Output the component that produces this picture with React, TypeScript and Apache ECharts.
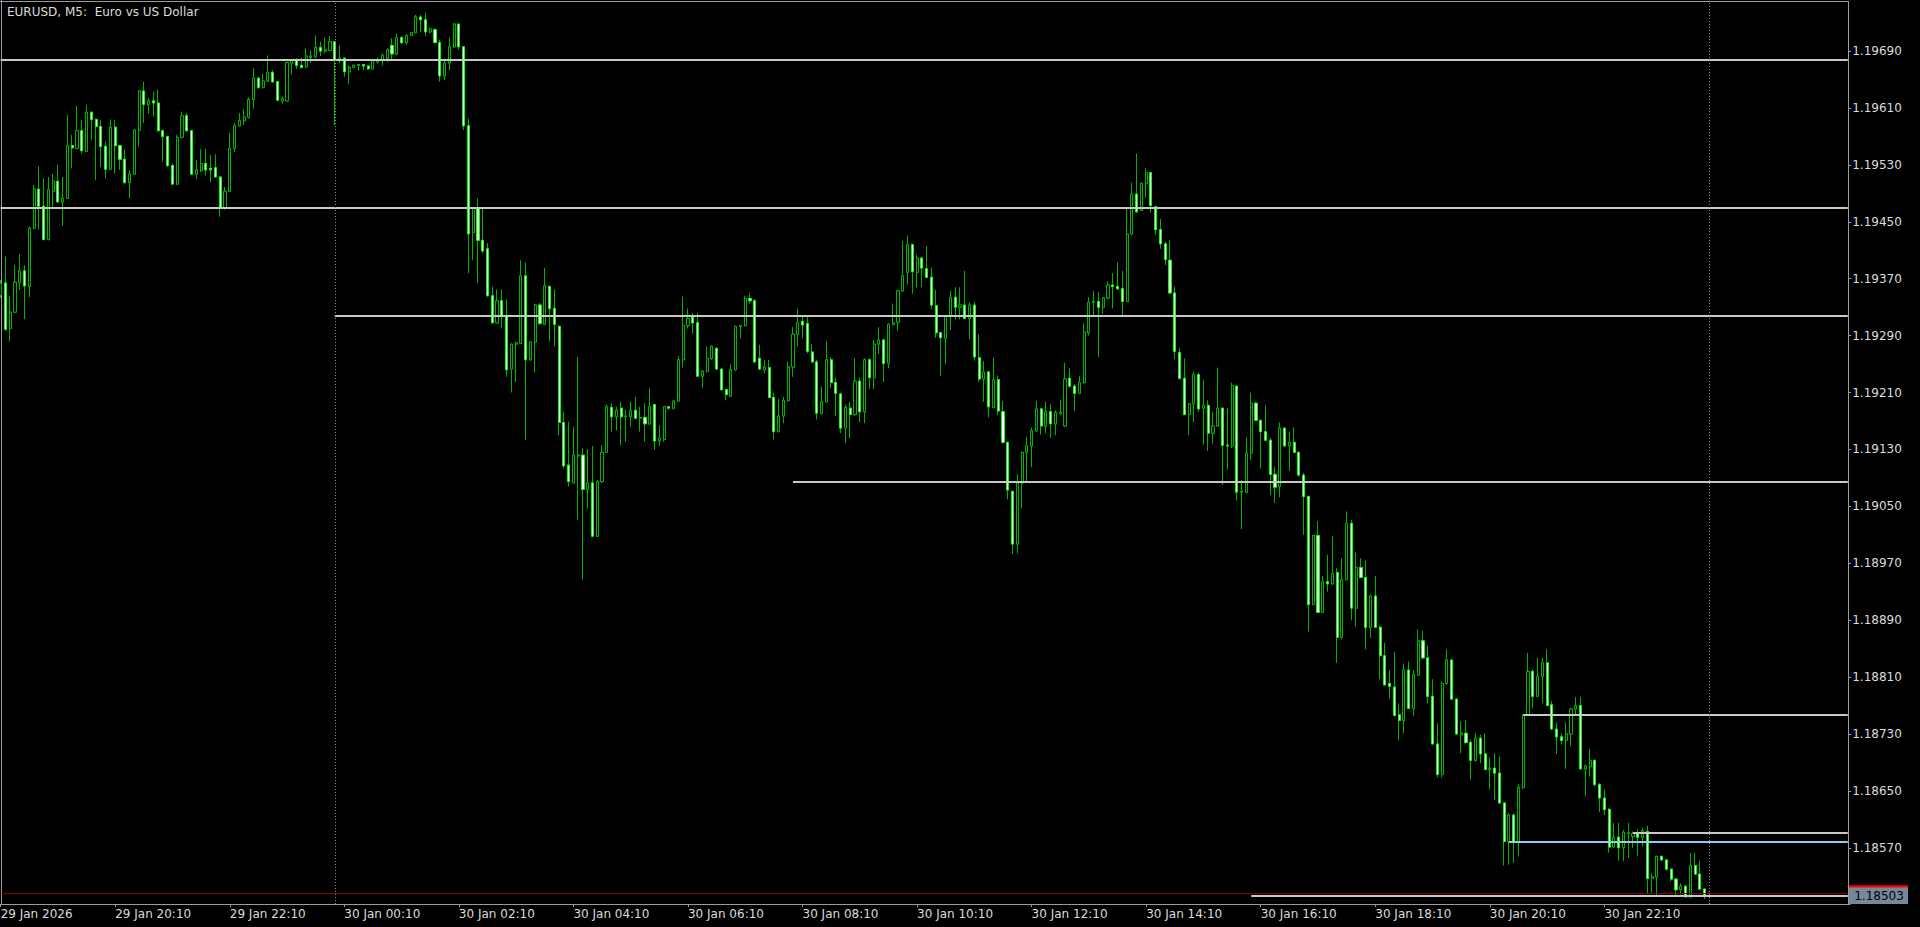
import React, { useEffect, useRef } from "react";
import * as echarts from "echarts";

// OHLC of each M5 bar, from 29 Jan 18:10 to 30 Jan 23:55
const opens = [
1.19347,1.19364,1.19300,1.19323,1.19365,1.19381,1.19359,1.19441,1.19496,1.19472,
1.19425,1.19493,1.19507,1.19478,1.19483,1.19557,1.19553,1.19578,1.19549,1.19604,
1.19594,1.19584,1.19556,1.19524,1.19583,1.19557,1.19538,1.19505,1.19517,1.19579,
1.19634,1.19615,1.19620,1.19617,1.19578,1.19570,1.19529,1.19503,1.19569,1.19599,
1.19578,1.19517,1.19522,1.19532,1.19525,1.19526,1.19513,1.19470,1.19493,1.19553,
1.19585,1.19592,1.19597,1.19622,1.19652,1.19639,1.19648,1.19660,1.19647,1.19620,
1.19620,1.19673,1.19677,1.19670,1.19668,1.19681,1.19682,1.19695,1.19690,1.19691,
1.19703,1.19677,1.19680,1.19661,1.19667,1.19670,1.19671,1.19669,1.19665,1.19675,
1.19678,1.19680,1.19698,1.19686,1.19709,1.19702,1.19712,1.19716,1.19738,1.19734,
1.19717,1.19720,1.19702,1.19655,1.19673,1.19696,1.19728,1.19696,1.19585,1.19435,
1.19469,1.19424,1.19412,1.19346,1.19308,1.19339,1.19318,1.19243,1.19278,1.19279,
1.19374,1.19256,1.19281,1.19333,1.19306,1.19359,1.19328,1.19303,1.19168,1.19108,
1.19083,1.19121,1.19122,1.19074,1.19083,1.19008,1.19085,1.19126,1.19189,1.19176,
1.19188,1.19176,1.19176,1.19185,1.19174,1.19175,1.19166,1.19193,1.19142,1.19144,
1.19190,1.19188,1.19198,1.19256,1.19304,1.19316,1.19308,1.19233,1.19240,1.19258,
1.19272,1.19243,1.19214,1.19205,1.19242,1.19303,1.19304,1.19342,1.19339,1.19258,
1.19242,1.19245,1.19203,1.19155,1.19177,1.19199,1.19246,1.19292,1.19310,1.19307,
1.19267,1.19253,1.19181,1.19197,1.19256,1.19224,1.19208,1.19160,1.19188,1.19179,
1.19226,1.19183,1.19256,1.19231,1.19278,1.19284,1.19251,1.19306,1.19309,1.19353,
1.19379,1.19418,1.19379,1.19399,1.19384,1.19372,1.19332,1.19294,1.19286,1.19317,
1.19344,1.19330,1.19333,1.19314,1.19333,1.19259,1.19229,1.19239,1.19189,1.19228,
1.19183,1.19140,1.19071,1.18997,1.19083,1.19126,1.19135,1.19156,1.19187,1.19163,
1.19183,1.19166,1.19181,1.19163,1.19230,1.19219,1.19209,1.19224,1.19294,1.19337,
1.19338,1.19330,1.19343,1.19361,1.19359,1.19356,1.19338,1.19433,1.19489,1.19466,
1.19504,1.19519,1.19471,1.19439,1.19419,1.19396,1.19350,1.19266,1.19230,1.19179,
1.19194,1.19235,1.19188,1.19192,1.19153,1.19163,1.19188,1.19136,1.19135,1.19219,
1.19070,1.19070,1.19125,1.19195,1.19171,1.19155,1.19143,1.19095,1.19078,1.19160,
1.19135,1.19140,1.19126,1.19094,1.19064,1.18912,1.19009,1.18901,1.18944,1.18941,
1.18957,1.18866,1.18947,1.19026,1.18907,1.18964,1.18950,1.18880,1.18924,1.18880,
1.18840,1.18801,1.18796,1.18757,1.18749,1.18820,1.18766,1.18813,1.18861,1.18837,
1.18783,1.18716,1.18673,1.18801,1.18834,1.18779,1.18729,1.18731,1.18718,1.18693,
1.18724,1.18702,1.18680,1.18682,1.18675,1.18633,1.18579,1.18616,1.18579,1.18655,
1.18757,1.18818,1.18783,1.18811,1.18830,1.18771,1.18737,1.18726,1.18721,1.18730,
1.18765,1.18770,1.18681,1.18684,1.18693,1.18659,1.18640,1.18624,1.18571,1.18585,
1.18570,1.18590,1.18586,1.18590,1.18585,1.18593,1.18527,1.18529,1.18558,1.18553,
1.18540,1.18526,1.18511,1.18516,1.18501,1.18545,1.18533,1.18512
];

const closes = [
1.19363,1.19299,1.19323,1.19365,1.19381,1.19360,1.19441,1.19496,1.19472,1.19425,
1.19495,1.19507,1.19478,1.19483,1.19557,1.19554,1.19578,1.19550,1.19604,1.19594,
1.19584,1.19556,1.19524,1.19583,1.19557,1.19538,1.19505,1.19517,1.19579,1.19634,
1.19615,1.19620,1.19617,1.19578,1.19570,1.19529,1.19503,1.19569,1.19599,1.19578,
1.19517,1.19523,1.19532,1.19523,1.19523,1.19513,1.19470,1.19493,1.19553,1.19585,
1.19592,1.19597,1.19622,1.19652,1.19639,1.19648,1.19660,1.19647,1.19621,1.19623,
1.19674,1.19677,1.19670,1.19667,1.19683,1.19683,1.19695,1.19690,1.19692,1.19703,
1.19678,1.19680,1.19661,1.19667,1.19670,1.19671,1.19669,1.19665,1.19676,1.19678,
1.19684,1.19692,1.19686,1.19709,1.19702,1.19712,1.19716,1.19738,1.19734,1.19717,
1.19721,1.19702,1.19655,1.19673,1.19696,1.19728,1.19696,1.19585,1.19433,1.19469,
1.19424,1.19409,1.19346,1.19308,1.19339,1.19318,1.19242,1.19278,1.19280,1.19374,
1.19256,1.19281,1.19333,1.19307,1.19360,1.19328,1.19306,1.19168,1.19107,1.19085,
1.19122,1.19122,1.19074,1.19083,1.19008,1.19085,1.19126,1.19190,1.19176,1.19185,
1.19176,1.19177,1.19185,1.19174,1.19175,1.19166,1.19190,1.19142,1.19146,1.19190,
1.19188,1.19198,1.19256,1.19304,1.19314,1.19308,1.19233,1.19240,1.19258,1.19275,
1.19243,1.19214,1.19207,1.19242,1.19303,1.19304,1.19342,1.19339,1.19253,1.19243,
1.19246,1.19203,1.19155,1.19177,1.19199,1.19246,1.19292,1.19308,1.19305,1.19268,
1.19253,1.19181,1.19197,1.19256,1.19224,1.19209,1.19160,1.19189,1.19179,1.19226,
1.19183,1.19256,1.19231,1.19278,1.19284,1.19251,1.19306,1.19308,1.19353,1.19374,
1.19418,1.19380,1.19399,1.19385,1.19372,1.19333,1.19294,1.19287,1.19317,1.19344,
1.19330,1.19333,1.19314,1.19333,1.19260,1.19229,1.19239,1.19190,1.19228,1.19184,
1.19140,1.19073,1.18997,1.19083,1.19126,1.19135,1.19156,1.19187,1.19163,1.19183,
1.19166,1.19182,1.19182,1.19229,1.19219,1.19209,1.19224,1.19295,1.19337,1.19338,
1.19330,1.19343,1.19361,1.19359,1.19356,1.19338,1.19433,1.19489,1.19464,1.19504,
1.19519,1.19473,1.19439,1.19419,1.19397,1.19350,1.19268,1.19230,1.19179,1.19194,
1.19235,1.19187,1.19192,1.19153,1.19163,1.19188,1.19136,1.19135,1.19220,1.19070,
1.19071,1.19125,1.19195,1.19171,1.19155,1.19143,1.19095,1.19077,1.19160,1.19135,
1.19140,1.19126,1.19094,1.19064,1.18912,1.19009,1.18901,1.18944,1.18941,1.18955,
1.18866,1.18947,1.19026,1.18907,1.18964,1.18950,1.18880,1.18924,1.18880,1.18840,
1.18799,1.18797,1.18756,1.18749,1.18820,1.18766,1.18813,1.18861,1.18837,1.18783,
1.18716,1.18673,1.18801,1.18834,1.18779,1.18730,1.18731,1.18718,1.18693,1.18724,
1.18702,1.18680,1.18682,1.18675,1.18633,1.18579,1.18616,1.18579,1.18655,1.18757,
1.18818,1.18783,1.18811,1.18830,1.18770,1.18737,1.18726,1.18721,1.18730,1.18765,
1.18770,1.18681,1.18685,1.18693,1.18659,1.18640,1.18624,1.18571,1.18585,1.18570,
1.18592,1.18591,1.18590,1.18585,1.18594,1.18527,1.18529,1.18558,1.18553,1.18540,
1.18526,1.18511,1.18516,1.18501,1.18545,1.18533,1.18512,1.18503
];

const lows = [
1.19343,1.19297,1.19282,1.19322,1.19354,1.19313,1.19344,1.19440,1.19439,1.19424,
1.19424,1.19471,1.19477,1.19444,1.19482,1.19525,1.19552,1.19546,1.19548,1.19565,
1.19509,1.19527,1.19511,1.19523,1.19518,1.19523,1.19504,1.19483,1.19516,1.19556,
1.19589,1.19602,1.19598,1.19577,1.19535,1.19527,1.19502,1.19502,1.19567,1.19577,
1.19516,1.19510,1.19520,1.19515,1.19506,1.19512,1.19457,1.19467,1.19492,1.19548,
1.19584,1.19586,1.19595,1.19609,1.19637,1.19637,1.19647,1.19645,1.19620,1.19616,
1.19619,1.19657,1.19665,1.19666,1.19666,1.19673,1.19680,1.19683,1.19687,1.19690,
1.19586,1.19673,1.19654,1.19644,1.19666,1.19662,1.19663,1.19664,1.19664,1.19672,
1.19670,1.19675,1.19676,1.19684,1.19700,1.19699,1.19711,1.19715,1.19717,1.19711,
1.19715,1.19701,1.19647,1.19649,1.19663,1.19694,1.19692,1.19579,1.19378,1.19396,
1.19364,1.19406,1.19345,1.19307,1.19307,1.19300,1.19232,1.19210,1.19225,1.19278,
1.19143,1.19255,1.19238,1.19305,1.19305,1.19282,1.19275,1.19150,1.19104,1.19078,
1.19083,1.19031,1.18947,1.19047,1.19008,1.19008,1.19083,1.19126,1.19155,1.19157,
1.19136,1.19141,1.19162,1.19172,1.19155,1.19141,1.19164,1.19129,1.19135,1.19141,
1.19186,1.19186,1.19197,1.19245,1.19300,1.19293,1.19232,1.19217,1.19238,1.19256,
1.19242,1.19213,1.19199,1.19204,1.19241,1.19286,1.19303,1.19335,1.19252,1.19242,
1.19237,1.19202,1.19144,1.19154,1.19167,1.19197,1.19232,1.19275,1.19286,1.19265,
1.19252,1.19172,1.19179,1.19196,1.19216,1.19177,1.19153,1.19139,1.19146,1.19177,
1.19168,1.19167,1.19215,1.19215,1.19264,1.19225,1.19244,1.19304,1.19297,1.19352,
1.19362,1.19349,1.19358,1.19358,1.19371,1.19327,1.19287,1.19233,1.19250,1.19298,
1.19313,1.19313,1.19313,1.19285,1.19255,1.19225,1.19197,1.19175,1.19188,1.19178,
1.19138,1.19060,1.18983,1.18984,1.19047,1.19085,1.19105,1.19155,1.19151,1.19153,
1.19146,1.19150,1.19178,1.19162,1.19217,1.19184,1.19208,1.19222,1.19290,1.19316,
1.19260,1.19321,1.19341,1.19328,1.19354,1.19319,1.19337,1.19432,1.19463,1.19465,
1.19484,1.19463,1.19432,1.19412,1.19389,1.19348,1.19257,1.19228,1.19178,1.19150,
1.19168,1.19183,1.19137,1.19128,1.19138,1.19162,1.19080,1.19102,1.19132,1.19058,
1.19018,1.19068,1.19115,1.19170,1.19103,1.19142,1.19066,1.19055,1.19063,1.19133,
1.19100,1.19125,1.19092,1.19010,1.18874,1.18911,1.18900,1.18900,1.18930,1.18940,
1.18830,1.18863,1.18946,1.18890,1.18881,1.18949,1.18849,1.18865,1.18879,1.18807,
1.18798,1.18780,1.18755,1.18721,1.18731,1.18765,1.18755,1.18812,1.18835,1.18773,
1.18715,1.18669,1.18669,1.18799,1.18778,1.18729,1.18703,1.18716,1.18666,1.18691,
1.18689,1.18679,1.18652,1.18637,1.18632,1.18545,1.18546,1.18549,1.18558,1.18652,
1.18756,1.18766,1.18782,1.18773,1.18769,1.18736,1.18702,1.18715,1.18681,1.18713,
1.18755,1.18680,1.18643,1.18670,1.18656,1.18620,1.18616,1.18563,1.18570,1.18552,
1.18551,1.18556,1.18570,1.18559,1.18572,1.18506,1.18507,1.18501,1.18551,1.18538,
1.18523,1.18502,1.18504,1.18500,1.18500,1.18532,1.18510,1.18498
];

const highs = [
1.19368,1.19401,1.19346,1.19389,1.19405,1.19389,1.19443,1.19502,1.19528,1.19511,
1.19513,1.19517,1.19530,1.19513,1.19600,1.19572,1.19613,1.19593,1.19614,1.19605,
1.19595,1.19593,1.19563,1.19594,1.19593,1.19558,1.19552,1.19522,1.19580,1.19635,
1.19647,1.19624,1.19633,1.19636,1.19579,1.19571,1.19532,1.19572,1.19605,1.19603,
1.19579,1.19537,1.19552,1.19553,1.19544,1.19545,1.19514,1.19499,1.19575,1.19589,
1.19603,1.19608,1.19625,1.19666,1.19654,1.19658,1.19684,1.19663,1.19648,1.19626,
1.19675,1.19679,1.19680,1.19681,1.19694,1.19691,1.19712,1.19703,1.19709,1.19711,
1.19704,1.19698,1.19681,1.19670,1.19671,1.19672,1.19672,1.19670,1.19677,1.19681,
1.19687,1.19694,1.19708,1.19714,1.19711,1.19714,1.19717,1.19741,1.19741,1.19744,
1.19723,1.19722,1.19706,1.19678,1.19709,1.19729,1.19729,1.19697,1.19595,1.19469,
1.19483,1.19469,1.19420,1.19359,1.19355,1.19355,1.19341,1.19279,1.19281,1.19396,
1.19393,1.19282,1.19335,1.19336,1.19385,1.19361,1.19355,1.19305,1.19183,1.19169,
1.19162,1.19260,1.19132,1.19130,1.19135,1.19087,1.19136,1.19193,1.19195,1.19190,
1.19197,1.19186,1.19197,1.19204,1.19190,1.19195,1.19216,1.19193,1.19164,1.19191,
1.19191,1.19200,1.19261,1.19345,1.19328,1.19322,1.19322,1.19241,1.19275,1.19276,
1.19274,1.19244,1.19215,1.19250,1.19304,1.19305,1.19346,1.19349,1.19341,1.19277,
1.19256,1.19256,1.19210,1.19201,1.19204,1.19254,1.19302,1.19328,1.19317,1.19318,
1.19278,1.19256,1.19218,1.19282,1.19260,1.19231,1.19210,1.19193,1.19197,1.19258,
1.19231,1.19258,1.19258,1.19284,1.19302,1.19285,1.19307,1.19335,1.19354,1.19423,
1.19431,1.19419,1.19404,1.19401,1.19416,1.19386,1.19354,1.19295,1.19318,1.19353,
1.19358,1.19358,1.19381,1.19337,1.19338,1.19292,1.19254,1.19240,1.19259,1.19234,
1.19198,1.19141,1.19072,1.19095,1.19127,1.19148,1.19161,1.19198,1.19188,1.19197,
1.19194,1.19185,1.19200,1.19252,1.19244,1.19222,1.19233,1.19307,1.19344,1.19353,
1.19351,1.19344,1.19366,1.19378,1.19393,1.19381,1.19471,1.19505,1.19546,1.19505,
1.19526,1.19520,1.19473,1.19454,1.19422,1.19424,1.19359,1.19273,1.19258,1.19195,
1.19239,1.19238,1.19228,1.19199,1.19183,1.19245,1.19189,1.19188,1.19224,1.19220,
1.19087,1.19147,1.19210,1.19197,1.19172,1.19192,1.19146,1.19106,1.19168,1.19161,
1.19155,1.19161,1.19127,1.19097,1.19065,1.19010,1.19029,1.18952,1.18982,1.19008,
1.18963,1.18977,1.19043,1.19031,1.18985,1.18977,1.18974,1.18926,1.18952,1.18882,
1.18858,1.18820,1.18845,1.18773,1.18829,1.18832,1.18820,1.18877,1.18875,1.18854,
1.18807,1.18745,1.18804,1.18849,1.18835,1.18780,1.18748,1.18750,1.18722,1.18731,
1.18729,1.18731,1.18697,1.18703,1.18698,1.18634,1.18619,1.18618,1.18659,1.18758,
1.18844,1.18820,1.18837,1.18837,1.18849,1.18776,1.18746,1.18731,1.18746,1.18766,
1.18782,1.18782,1.18687,1.18709,1.18694,1.18661,1.18652,1.18626,1.18605,1.18605,
1.18595,1.18605,1.18593,1.18596,1.18598,1.18601,1.18534,1.18559,1.18559,1.18554,
1.18541,1.18527,1.18520,1.18517,1.18563,1.18563,1.18552,1.18513
];

const tickLabels = [
  "29 Jan 2026", "29 Jan 20:10", "29 Jan 22:10", "30 Jan 00:10", "30 Jan 02:10",
  "30 Jan 04:10", "30 Jan 06:10", "30 Jan 08:10", "30 Jan 10:10", "30 Jan 12:10",
  "30 Jan 14:10", "30 Jan 16:10", "30 Jan 18:10", "30 Jan 20:10", "30 Jan 22:10"
];
const priceTicks = [
  1.1857, 1.1865, 1.1873, 1.1881, 1.1889, 1.1897, 1.1905, 1.1913,
  1.1921, 1.1929, 1.1937, 1.1945, 1.1953, 1.1961, 1.1969
];

// drawn objects
const fullLevels = [1.19678, 1.1947];
const rayStarts = [70, 166, 319, 342, 262];
const rayLevels = [1.19318, 1.19084, 1.18757, 1.18591, 1.18502];
const blueRayStart = 316;
const blueRayLevel = 1.18579;
const separatorSlots = [70, 358];
const bidPrice = 1.18503;
const askPrice = 1.18506;

const SLOTS = 388;
const LABEL_STEP = 24;
const FONT = '"DejaVu Sans", Verdana, sans-serif';
const TEXT = "#dcdcdc";
const AXIS = "#9c9c9c";
const WICK = "#00b400";
const LIME = "#00ff00";

const MONTHS = ["Jan", "Feb", "Mar", "Apr", "May", "Jun", "Jul", "Aug", "Sep", "Oct", "Nov", "Dec"];
const startMs = Date.UTC(2026, 0, 29, 18, 10);
const pad = (n: number) => (n < 10 ? "0" + n : "" + n);
const categories: string[] = [];
for (let i = 0; i < SLOTS; i++) {
  const d = new Date(startMs + i * 5 * 60 * 1000);
  categories.push(`${d.getUTCDate()} ${MONTHS[d.getUTCMonth()]} ${pad(d.getUTCHours())}:${pad(d.getUTCMinutes())}`);
}

export default function App() {
  const ref = useRef<HTMLDivElement>(null);

  useEffect(() => {
    if (!ref.current) return;
    const chart = echarts.init(ref.current, undefined, { renderer: "svg" });

    const candles = opens.map((o, i) => [o, closes[i], lows[i], highs[i]]);
    // bodies only (no shadows), drawn on top so that bear bodies get a bright rim
    const bodies = opens.map((o, i) => [o, closes[i], Math.min(o, closes[i]), Math.max(o, closes[i])]);
    const showIdx = (i: number) => i % LABEL_STEP === 0 && i / LABEL_STEP < tickLabels.length;

    const lastCat = categories[SLOTS - 1];
    const whiteStyle = { color: "#c8c8c8", width: 2, type: "solid" };
    const markData: any[] = [];
    fullLevels.forEach((v) => {
      markData.push([
        { coord: [categories[0], v], lineStyle: whiteStyle },
        { coord: [lastCat, v], lineStyle: whiteStyle },
      ]);
    });
    rayStarts.forEach((s, k) => {
      markData.push([
        { coord: [categories[s], rayLevels[k]], lineStyle: whiteStyle },
        { coord: [lastCat, rayLevels[k]], lineStyle: whiteStyle },
      ]);
    });
    const blueStyle = { color: "#87cefa", width: 2, type: "solid" };
    markData.push([
      { coord: [categories[blueRayStart], blueRayLevel], lineStyle: blueStyle },
      { coord: [lastCat, blueRayLevel], lineStyle: blueStyle },
    ]);
    const askStyle = { color: "#8b0000", width: 1, type: "solid" };
    markData.push([
      { coord: [categories[0], askPrice], lineStyle: askStyle },
      { coord: [lastCat, askPrice], lineStyle: askStyle },
    ]);
    separatorSlots.forEach((s) => {
      markData.push({ xAxis: categories[s], lineStyle: { color: "#8a8a8a", width: 1, type: [1, 2] } });
    });

    const option: any = {
      animation: false,
      backgroundColor: "#000000",
      title: {
        text: "EURUSD, M5:  Euro vs US Dollar",
        left: 7,
        top: 4,
        padding: 0,
        textStyle: { color: TEXT, fontSize: 12, fontWeight: "normal", fontFamily: FONT, lineHeight: 15 },
      },
      grid: { left: -1.74, right: 69.8, top: 2, bottom: 23, containLabel: false, outerBoundsMode: "none" },
      xAxis: {
        type: "category",
        data: categories,
        boundaryGap: true,
        axisLine: { show: true, lineStyle: { color: AXIS, width: 1 } },
        axisTick: { show: true, alignWithLabel: true, interval: (i: number) => showIdx(i), length: 3, lineStyle: { color: AXIS } },
        axisLabel: {
          show: true,
          interval: (i: number) => showIdx(i),
          formatter: (_v: string, i: number) => tickLabels[i / LABEL_STEP] ?? "",
          align: "left",
          margin: 4,
          color: TEXT,
          fontSize: 12,
          fontFamily: FONT,
        },
        splitLine: { show: false },
      },
      yAxis: {
        type: "value",
        position: "right",
        offset: -2,
        min: 1.18491,
        max: 1.19759,
        axisLine: { show: true, lineStyle: { color: AXIS, width: 1 } },
        axisTick: { show: true, length: 3, customValues: priceTicks, lineStyle: { color: AXIS } },
        axisLabel: {
          customValues: priceTicks,
          formatter: (v: number) => v.toFixed(5),
          margin: 4,
          color: TEXT,
          fontSize: 12,
          fontFamily: FONT,
        },
        splitLine: { show: false },
      },
      series: [
        {
          type: "candlestick",
          name: "bars",
          data: candles,
          barWidth: 2.6,
          itemStyle: {
            color: "#000000",
            color0: "#ffffff",
            borderColor: WICK,
            borderColor0: WICK,
            borderWidth: 1,
          },
          emphasis: { disabled: true },
          markLine: {
            silent: true,
            symbol: ["none", "none"],
            animation: false,
            label: { show: false },
            emphasis: { disabled: true },
            data: markData,
          },
        },
        {
          type: "candlestick",
          name: "bodies",
          data: bodies,
          barWidth: 2.6,
          silent: true,
          itemStyle: {
            color: "#000000",
            color0: "#ffffff",
            borderColor: WICK,
            borderColor0: LIME,
            borderWidth: 1,
          },
          emphasis: { disabled: true },
        },
      ],
    };
    chart.setOption(option);

    const yBid = chart.convertToPixel({ yAxisIndex: 0 }, bidPrice) as number;
    const yAsk = chart.convertToPixel({ yAxisIndex: 0 }, askPrice) as number;
    const xAxisLine = chart.convertToPixel({ xAxisIndex: 0 }, lastCat) as number;
    const plotBottom = chart.convertToPixel({ yAxisIndex: 0 }, 1.18491) as number;
    chart.setOption({
      graphic: [
        { type: "line", silent: true, shape: { x1: 1.5, y1: 0, x2: 1.5, y2: plotBottom }, style: { stroke: AXIS, lineWidth: 1 } },
        { type: "line", silent: true, shape: { x1: 0, y1: 1.5, x2: xAxisLine + 1, y2: 1.5 }, style: { stroke: AXIS, lineWidth: 1 } },
        { type: "rect", silent: true, shape: { x: 1849, y: yAsk - 8, width: 59, height: 16 }, style: { fill: "#ff0000" } },
        { type: "rect", silent: true, shape: { x: 1849, y: yBid - 8, width: 59, height: 16.5 }, style: { fill: "#778899" } },
        {
          type: "text",
          silent: true,
          x: 1879,
          y: yBid + 0.5,
          style: { text: bidPrice.toFixed(5), fill: "#000000", font: `12px ${FONT}`, align: "center", verticalAlign: "middle" },
        },
      ],
    });

    return () => chart.dispose();
  }, []);

  return (
    <div
      ref={ref}
      style={{ position: "fixed", left: 0, top: 0, width: 1920, height: 927, background: "#000" }}
    />
  );
}
